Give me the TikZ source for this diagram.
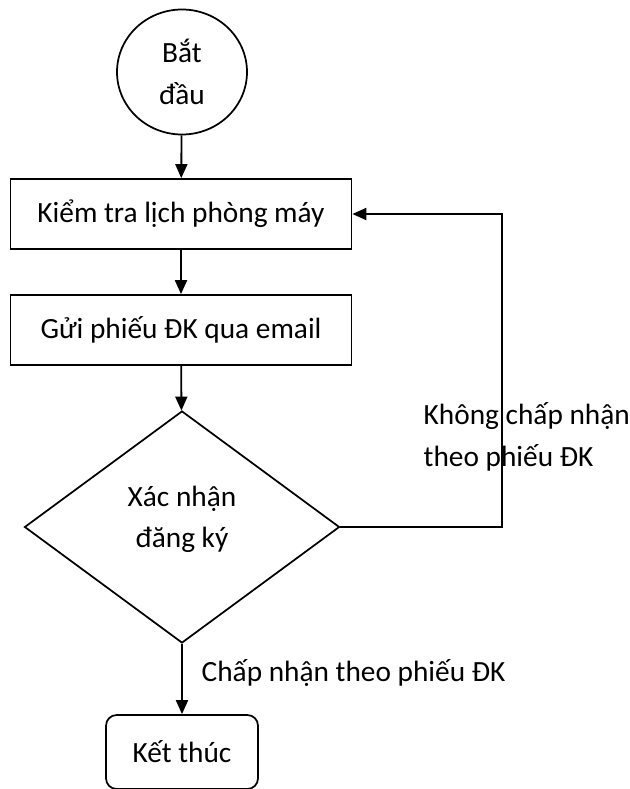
\documentclass[tikz,border=0pt]{standalone}
\usepackage{fontspec}
\setmainfont{Carlito}
\usepackage{tikz}
\usetikzlibrary{shapes}
\usetikzlibrary{arrows.meta}
\tikzset{flow/.style={draw=black, line width=1.4pt, -{Triangle[length=10.5pt,width=9pt]}}}
\tikzset{stepbox/.style={draw=black, line width=1.3pt, minimum width=255.75pt, minimum height=52.5pt, inner sep=0pt}}

\begin{document}
\begin{tikzpicture}[x=0.75pt,y=-0.75pt,font=\fontsize{22}{31}\selectfont]
\useasboundingbox (0, 0) rectangle (630, 789);
\node[draw, ellipse, line width=1.3pt, minimum width=97.5pt, minimum height=93.75pt, inner sep=0pt, align=center] (start) at (182, 72) {Bắt\\đầu};
\node[stepbox] (check) at (181, 214) {Kiểm tra lịch phòng máy};
\node[stepbox] (send) at (181, 330) {Gửi phiếu ĐK qua email};
\node[draw, diamond, line width=1.3pt, minimum width=236.25pt, minimum height=174pt, inner sep=0pt] (confirm) at (182, 527) {};
\node[align=center] (confirmtxt) at (182, 519) {Xác nhận\\đăng ký};
\node[draw, rounded corners=8pt, line width=1.3pt, minimum width=114pt, minimum height=55.5pt] (stop) at (182, 752) {Kết thúc};
\coordinate (back) at (502, 527);
\draw[flow] (start) -- (check);
\draw[flow] (check) -- (send);
\draw[flow] (send) -- (confirm);
\draw[flow] (confirm.east) -- (back) |- (check.east);
\draw[flow] (confirm.south) -- (stop);
\node[anchor=west, align=left] (nolabel) at (419, 437) {Không chấp nhận\\theo phiếu ĐK};
\node[anchor=west] (yeslabel) at (197, 673) {Chấp nhận theo phiếu ĐK};
\end{tikzpicture}
\end{document}
